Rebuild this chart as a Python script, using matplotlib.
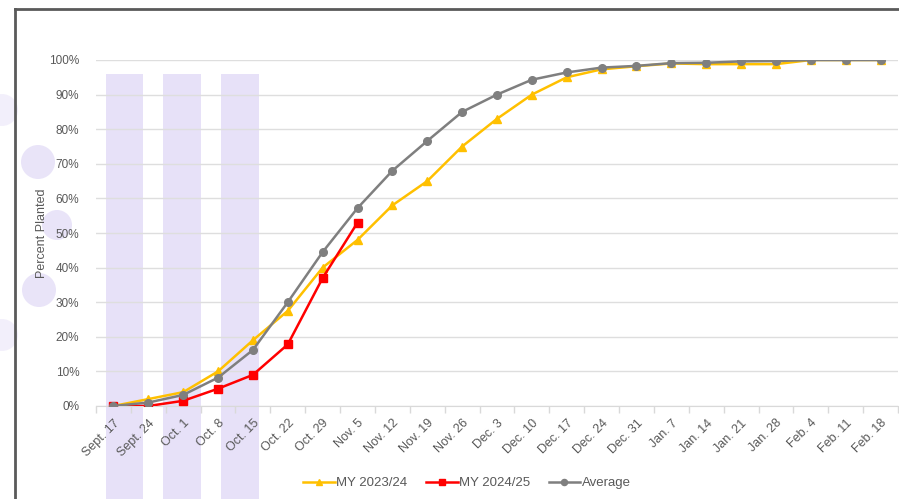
import matplotlib
matplotlib.use("Agg")
import matplotlib.pyplot as plt
from matplotlib.patches import Rectangle, Ellipse
from matplotlib.lines import Line2D
from matplotlib.ticker import PercentFormatter, FixedLocator

plt.rcParams['font.family'] = ['Liberation Sans', 'DejaVu Sans']

# week labels
weeks = ["Sept. 17", "Sept. 24", "Oct. 1", "Oct. 8", "Oct. 15", "Oct. 22", "Oct. 29",
         "Nov. 5", "Nov. 12", "Nov. 19", "Nov. 26", "Dec. 3", "Dec. 10", "Dec. 17",
         "Dec. 24", "Dec. 31", "Jan. 7", "Jan. 14", "Jan. 21", "Jan. 28",
         "Feb. 4", "Feb. 11", "Feb. 18"]

# percent planted (0-100)
my_2023 = [0, 2, 4, 10, 19, 27.5, 40, 48, 58, 65, 75, 83, 90, 95, 97.3, 98.2,
           99, 98.8, 98.8, 98.8, 100, 100, 100]
my_2024 = [0, 0, 1.5, 5, 9, 17.8, 37, 53]
average = [0, 1, 3.2, 8.2, 16.2, 30, 44.5, 57.2, 68, 76.6, 85, 90, 94.3, 96.4,
           97.8, 98.3, 99.1, 99.2, 99.6, 99.7, 100, 100, 100]

series_names = ["MY 2023/24", "MY 2024/25", "Average"]
series_colors = ["#FFC000", "#FF0000", "#7F7F7F"]
series_markers = ["^", "s", "o"]

fig = plt.figure(figsize=(8.99, 4.99), dpi=100)
fig.patch.set_facecolor("white")
W, H = 899, 499

def fx(px):
    return px / W

def fy(py):
    return 1 - py / H

# faint lavender watermark bands / blobs behind the chart
lav = "#E7E1F8"
for x0, x1 in [(106, 143), (163, 201), (221, 259)]:
    fig.patches.append(Rectangle((fx(x0), 0), fx(x1) - fx(x0), fy(74),
                                 transform=fig.transFigure, facecolor=lav,
                                 edgecolor="none", zorder=-1))
for cx, cy, r, a in [(38, 162, 17, 0.9), (57, 225, 15, 0.9), (39, 290, 17, 0.9),
                     (2, 110, 16, 0.5), (2, 335, 16, 0.5)]:
    fig.patches.append(Ellipse((fx(cx), fy(cy)), 2 * r / W, 2 * r / H,
                               transform=fig.transFigure, facecolor=lav,
                               edgecolor="none", alpha=a, zorder=-1))

# chart frame (dark border, runs off the right and bottom)
fig.lines.append(Line2D([fx(15), fx(15)], [fy(9), 0], transform=fig.transFigure,
                        color="#5A5A5A", lw=2))
fig.lines.append(Line2D([fx(15), 1], [fy(9), fy(9)], transform=fig.transFigure,
                        color="#5A5A5A", lw=2))

ax = fig.add_axes([fx(96), fy(406), fx(898) - fx(96), fy(60) - fy(406)])
ax.set_facecolor("none")

x = list(range(len(weeks)))
data = [my_2023, my_2024, average]
for vals, name, col, mk in zip(data, series_names, series_colors, series_markers):
    ax.plot(x[:len(vals)], vals, color=col, marker=mk, markersize=5.5,
            lw=1.8, label=name, zorder=3)

ax.set_xlim(-0.5, len(weeks) - 0.5)
ax.set_ylim(0, 100)
ax.set_yticks(range(0, 101, 10))
ax.yaxis.set_major_formatter(PercentFormatter(decimals=0))
ax.grid(axis="y", color="#DEDEDE", lw=1)
ax.set_axisbelow(True)

ax.set_xticks(x)
ax.set_xticklabels(weeks, rotation=45, ha="right", va="top", rotation_mode="anchor")
ax.xaxis.set_minor_locator(FixedLocator([i - 0.5 for i in range(len(weeks) + 1)]))
ax.tick_params(axis="x", which="major", length=0, pad=8, labelsize=9, labelcolor="#595959")
ax.tick_params(axis="x", which="minor", length=5, color="#D9D9D9", width=1)
ax.tick_params(axis="y", length=0, pad=12, labelsize=8.5, labelcolor="#595959")

for s in ["top", "right", "left"]:
    ax.spines[s].set_visible(False)
ax.spines["bottom"].set_color("#D9D9D9")

fig.text(fx(42), fy(233), "Percent Planted", rotation=90, ha="center", va="center",
         fontsize=9, color="#595959")

fig.legend(loc="center", bbox_to_anchor=(fx(467), fy(483)), ncol=3, frameon=False,
           fontsize=9.5, handlelength=2.4, handletextpad=0.1, columnspacing=1.4,
           labelcolor="#595959", markerscale=0.8)

fig.savefig("out.png", dpi=100)
